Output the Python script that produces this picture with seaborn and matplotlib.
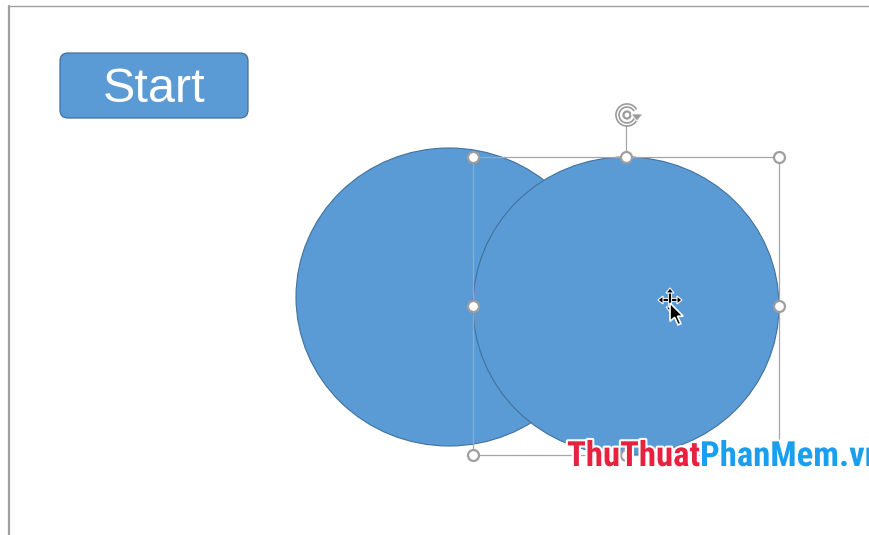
import matplotlib
matplotlib.use('Agg')
import matplotlib.pyplot as plt
import matplotlib.patheffects as pe
from matplotlib import font_manager
from matplotlib.patches import Ellipse, FancyBboxPatch, Arc, Polygon
import seaborn as sns
import pandas as pd

# ---- data -------------------------------------------------------------
shape_names = ['left circle', 'right circle']
center_x = [449, 626]
center_y = [297, 306]
radius_x = [153, 153]
radius_y = [149, 149]

button_label = 'Start'
button_box = [60, 53, 188, 65]          # x, y, width, height

sel_box = [473, 157, 779, 455]          # left, top, right, bottom
handle_x = [473, 626, 779, 473, 779, 473, 626, 779]
handle_y = [157, 157, 157, 306, 306, 455, 455, 455]
rotate_xy = [627, 115]

watermark_parts = ['ThuThuat', 'PhanMem.vn']
watermark_colors = ['#E8213F', '#1A9EF0']

# ---- style ------------------------------------------------------------
sns.set_theme(style='white')
plt.rcParams['font.family'] = ['Liberation Sans', 'DejaVu Sans']
bold_names = {f.name for f in font_manager.fontManager.ttflist
              if (f.weight == 700 or f.weight == 'bold') and 'italic' not in f.fname.lower()}
wm_font = 'DejaVu Sans'
for cand in ['Roboto Condensed', 'Liberation Sans Narrow', 'Arimo Narrow',
             'Barlow Semi Condensed', 'Fira Sans Condensed', 'Asap Condensed']:
    if cand in bold_names:
        wm_font = cand
        break

FILL = '#5B9BD5'
EDGE = '#41719C'
GRAY = '#A6A6A6'

fig = plt.figure(figsize=(8.7, 5.35), dpi=100)
ax = fig.add_axes([0, 0, 1, 1])

# slide border
ax.plot([9, 870], [6, 6], color='#A0A0A0', lw=1.0, zorder=1)
ax.plot([9, 9], [6, 535], color='#A0A0A0', lw=1.6, zorder=1)

# button
bx, by, bw, bh = button_box
ax.add_patch(FancyBboxPatch((bx, by), bw, bh,
                            boxstyle='round,pad=0,rounding_size=8',
                            fc=FILL, ec=EDGE, lw=0.9, zorder=2))
ax.text(bx + bw / 2, by + bh / 2 + 4, button_label, color='white',
        fontsize=35, ha='center', va='center', zorder=3)

# circles
for i, _ in enumerate(shape_names):
    ax.add_patch(Ellipse((center_x[i], center_y[i]), 2 * radius_x[i], 2 * radius_y[i],
                         fc=FILL, ec=EDGE, lw=0.8, zorder=4 + i))

# selection box
l, t, r, b = sel_box
ax.plot([l, r, r, l, l], [t, t, b, b, t], color=GRAY, lw=0.9, zorder=6)
ax.plot([rotate_xy[0] - 1, rotate_xy[0] - 1], [rotate_xy[1] + 9, t], color=GRAY, lw=0.9, zorder=6)

# rotate icon (arc + arrowhead)
rx, ry = rotate_xy
ax.add_patch(Arc((rx, ry), 19, 19, theta1=20, theta2=330, color='#9A9A9A', lw=3.4, zorder=7))
ax.add_patch(Arc((rx, ry), 19, 19, theta1=22, theta2=328, color='white', lw=1.0, zorder=7))
ax.add_patch(Arc((rx, ry), 7, 7, theta1=0, theta2=360, color='#9A9A9A', lw=1.6, zorder=7))
ax.add_patch(Polygon([[rx + 4, ry - 1], [rx + 16, ry - 1], [rx + 10, ry + 6]], closed=True,
                     fc='#9A9A9A', ec='white', lw=0.6, zorder=7))

# handles
df = pd.DataFrame({'x': handle_x, 'y': handle_y})
sns.scatterplot(data=df, x='x', y='y', ax=ax, s=62, color='white',
                edgecolor='#9E9E9E', linewidth=1.6, zorder=8, legend=False)

# move cursor
cx, cy = 670, 300
stroke = [pe.withStroke(linewidth=3, foreground='white')]
ax.plot([cx - 8, cx + 8], [cy, cy], color='black', lw=1.6, zorder=9, path_effects=stroke)
ax.plot([cx, cx], [cy - 8, cy + 8], color='black', lw=1.6, zorder=9, path_effects=stroke)
for (px, py, dx, dy) in [(cx - 12, cy, 1, 0), (cx + 12, cy, -1, 0),
                         (cx, cy - 12, 0, 1), (cx, cy + 12, 0, -1)]:
    ox, oy = -dy * 4, dx * 4
    ax.add_patch(Polygon([[px, py], [px + dx * 5 + ox, py + dy * 5 + oy],
                          [px + dx * 5 - ox, py + dy * 5 - oy]],
                         closed=True, fc='black', ec='white', lw=0.8, zorder=9))
arrow = [(0, 0), (0, 16), (4, 12.5), (7, 19), (9.5, 18), (6.5, 11.5), (11.5, 11.5)]
ax.add_patch(Polygon([[670 + 1.15 * x, 303 + 1.15 * y] for x, y in arrow], closed=True,
                     fc='black', ec='white', lw=1.2, zorder=10))

# watermark
glow = [pe.withStroke(linewidth=3, foreground='white')]
t1 = ax.text(567, 466, watermark_parts[0], color=watermark_colors[0], fontsize=25,
             fontweight='bold', family=wm_font, ha='left', va='baseline',
             zorder=11, path_effects=glow)
ax.annotate(watermark_parts[1], xy=(1, 0), xycoords=t1, xytext=(0, 0),
            textcoords='offset points', color=watermark_colors[1], fontsize=25,
            fontweight='bold', family=wm_font, ha='left', va='bottom',
            zorder=11, path_effects=glow, annotation_clip=False)

ax.set_xlim(0, 870)
ax.set_ylim(535, 0)
ax.axis('off')
fig.savefig('out.png', dpi=100)
